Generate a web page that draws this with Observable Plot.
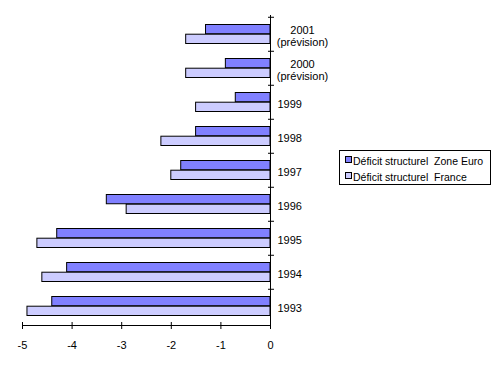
<!DOCTYPE html>
<html>
<head>
<meta charset="utf-8">
<script src="https://cdn.jsdelivr.net/npm/d3@7"></script>
<script src="https://cdn.jsdelivr.net/npm/@observablehq/plot@0.6"></script>
<style>
  html, body { margin: 0; padding: 0; background: #fff; }
  #wrap { position: relative; width: 502px; height: 366px; font-family: "Liberation Sans", Arial, sans-serif; }
  #legend { position: absolute; left: 339px; top: 150px; width: 150px; height: 33px; border: 1px solid #000; background: #fff; font-size: 10.5px; }
  .row { position: absolute; left: 5px; white-space: pre; line-height: 12px; }
  .sw { display: inline-block; width: 5px; height: 5px; border: 1px solid #000; vertical-align: top; margin-top: 1px; margin-right: 1px; }
</style>
</head>
<body>
<div id="wrap"><div id="chart"></div><div id="legend"></div></div>
<script>
const years = ["2001", "2000", "1999", "1998", "1997", "1996", "1995", "1994", "1993"];
const yearLabels = ["2001\n(prévision)", "2000\n(prévision)", "1999", "1998", "1997", "1996", "1995", "1994", "1993"];
const euro = [-1.3, -0.9, -0.7, -1.5, -1.8, -3.3, -4.3, -4.1, -4.4];
const france = [-1.7, -1.7, -1.5, -2.2, -2.0, -2.9, -4.7, -4.6, -4.9];
const xTicks = [-5, -4, -3, -2, -1, 0];
const seriesNames = ["Déficit structurel  Zone Euro", "Déficit structurel  France"];
const colors = ["#8080ff", "#ccccff"];

const euroData = years.map((y, i) => ({year: y, value: euro[i]}));
const franceData = years.map((y, i) => ({year: y, value: france[i]}));
const labelOf = new Map(years.map((y, i) => [y, yearLabels[i]]));
const multi = years.filter(y => labelOf.get(y).includes("\n"));
const single = years.filter(y => !labelOf.get(y).includes("\n"));

const H = 366, W = 502, mT = 15, mB = 41;
const bw = (H - mT - mB) / years.length;

const chart = Plot.plot({
  width: W,
  height: H,
  marginLeft: 22,
  marginRight: 232,
  marginTop: mT,
  marginBottom: mB,
  style: {fontFamily: "'Liberation Sans', Arial, sans-serif", fontSize: "11px", color: "#000", background: "#fff"},
  x: {domain: [-5, 0], axis: null},
  y: {domain: years, padding: 0, axis: null},
  marks: [
    Plot.barX(euroData, {x1: 0, x2: "value", y: "year", fill: colors[0], stroke: "#000", strokeWidth: 1, insetTop: 7.5, insetBottom: bw - 17.2}),
    Plot.barX(franceData, {x1: 0, x2: "value", y: "year", fill: colors[1], stroke: "#000", strokeWidth: 1, insetTop: 17.2, insetBottom: 7.5}),
    Plot.frame({anchor: "right", stroke: "#000"}),
    Plot.frame({anchor: "bottom", stroke: "#000"}),
    Plot.axisX({ticks: xTicks, tickSize: 7, dy: -3, tickFormat: () => "", label: null}),
    Plot.axisX({ticks: xTicks, tickSize: 0, tickPadding: 16, tickFormat: d => String(d), label: null}),
    Plot.axisY({anchor: "right", ticks: years, tickSize: 6, dx: -3, dy: -bw / 2, tickFormat: () => "", label: null}),
    Plot.axisY({anchor: "right", ticks: single, tickSize: 0, tickPadding: 7, dy: 2, textAnchor: "start", tickFormat: d => labelOf.get(d), label: null}),
    Plot.axisY({anchor: "right", ticks: multi, tickSize: 0, tickPadding: 32, dy: 2, textAnchor: "middle", lineHeight: 1.05, tickFormat: d => labelOf.get(d), label: null})
  ]
});
document.getElementById("chart").appendChild(chart);

const legend = document.getElementById("legend");
seriesNames.forEach((name, i) => {
  const row = document.createElement("div");
  row.className = "row";
  row.style.top = (4 + i * 16) + "px";
  const sw = document.createElement("span");
  sw.className = "sw";
  sw.style.background = colors[i];
  row.appendChild(sw);
  row.appendChild(document.createTextNode(name));
  legend.appendChild(row);
});
</script>
</body>
</html>
